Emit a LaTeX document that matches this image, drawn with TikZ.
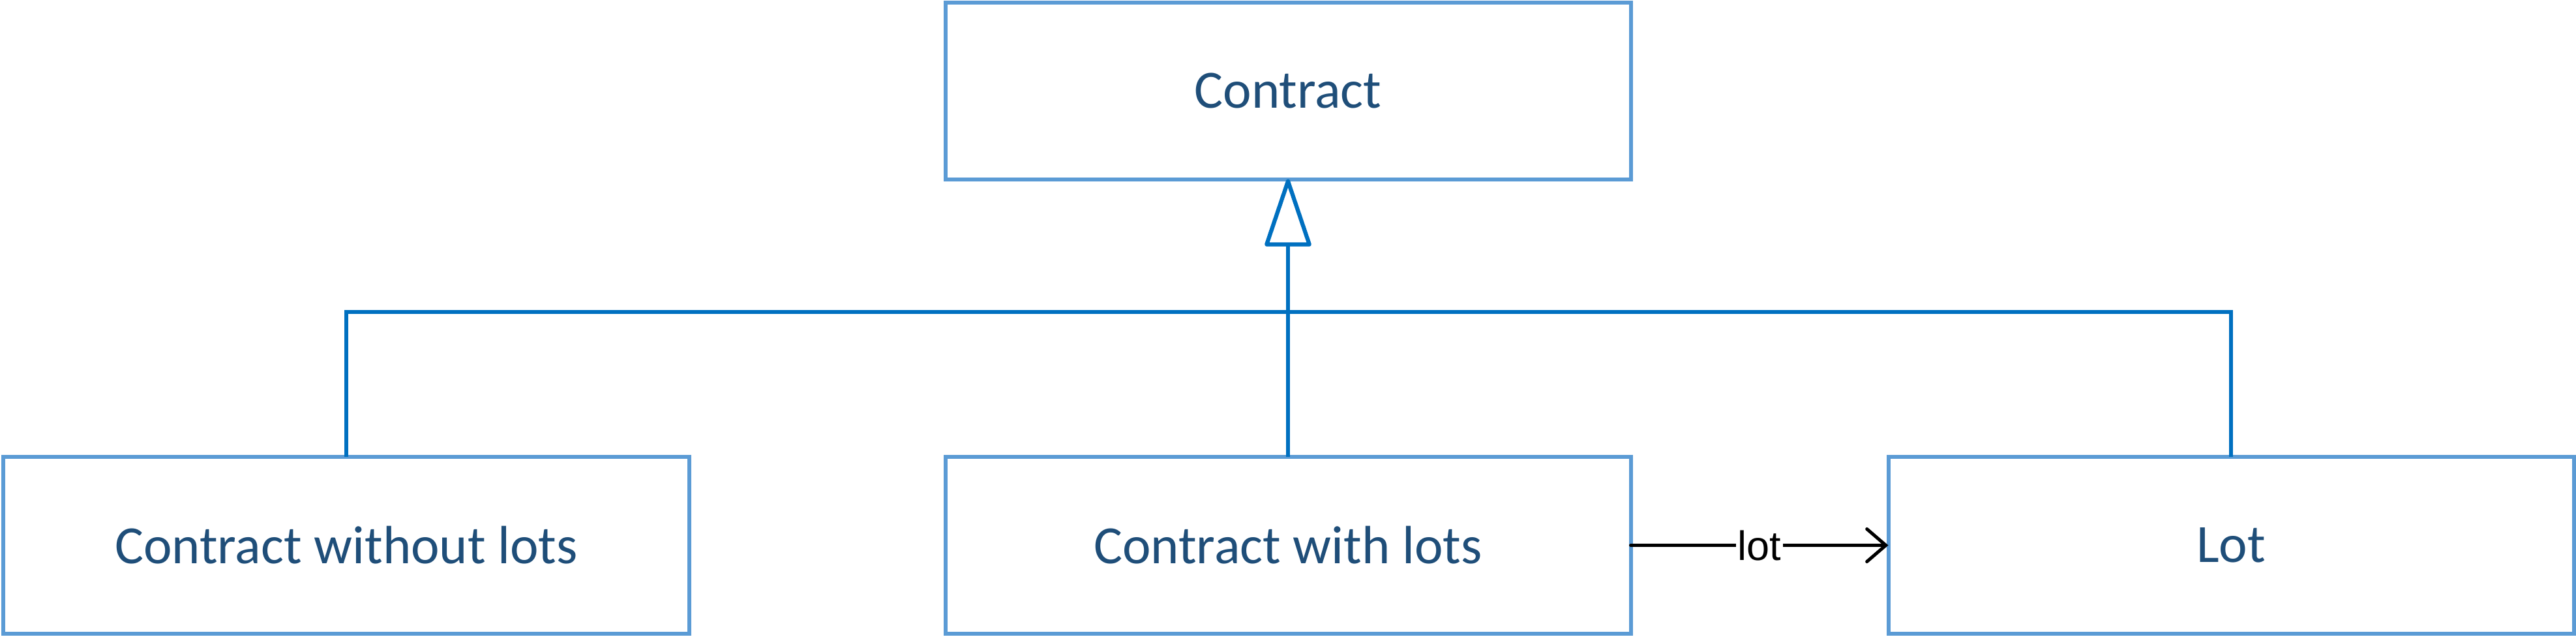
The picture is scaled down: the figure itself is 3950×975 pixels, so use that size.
\documentclass[tikz,border=0pt]{standalone}
\usepackage{fontspec}
\setmainfont{Carlito}
\newfontfamily\arialfont{Liberation Sans}
\usetikzlibrary{arrows.meta}
\definecolor{boxblue}{HTML}{5B9BD5}
\definecolor{linkblue}{HTML}{0070C0}
\definecolor{textblue}{HTML}{1F4E79}
\begin{document}
\begin{tikzpicture}[x=0.2pt,y=-0.2pt,
  umlbox/.style={draw=boxblue, line width=1.2pt, minimum width=210.2pt, minimum height=54.2pt,
    inner sep=0pt, outer sep=0pt, text=textblue, font=\fontsize{16.5}{19}\selectfont},
  gen/.style={draw=linkblue, line width=1.25pt},
  assoc/.style={draw=black, line width=1pt, line cap=round},
  assoclabel/.style={fill=white, inner sep=0.6pt, text=black, font=\arialfont\fontsize{12.6}{14}\selectfont}]
\useasboundingbox (0,0) rectangle (3950,975);
\node[umlbox] (contract) at (1975,139) {Contract};
\node[umlbox] (cwl) at (531,835.5) {Contract without lots};
\node[umlbox] (cwith) at (1975,835.5) {Contract with lots};
\node[umlbox] (lot) at (3421,835.5) {Lot};
\coordinate (bar) at (1975,478);
\draw[gen] (cwl.north) |- (bar) -| (lot.north);
\draw[gen, -{Triangle[open, fill=white, length=22pt, width=14.5pt, line join=round]}] (cwith.north) -- (contract.south);
\draw[assoc, -{Straight Barb[length=5.8pt, width=10pt, line cap=round]}] (cwith.east) -- node[assoclabel]{lot} (lot.west);
\end{tikzpicture}
\end{document}
